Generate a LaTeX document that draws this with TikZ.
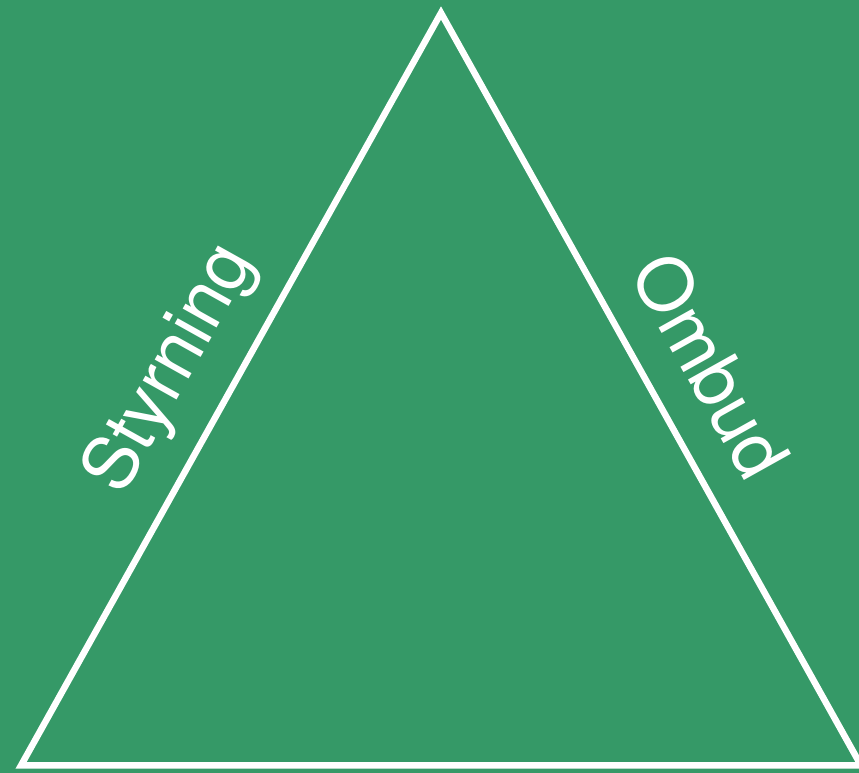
\documentclass[tikz,border=0pt]{standalone}
\usepackage{fontspec}
\setmainfont{TeX Gyre Heros}
\usetikzlibrary{calc}
\definecolor{bggreen}{RGB}{53,153,103}
\tikzset{
  edge/.style={draw=white, line width=6.5pt, line join=miter},
  sidelabel/.style={text=white, inner sep=0pt, anchor=base west, font=\fontsize{74}{80}\selectfont}
}
\begin{document}
\begin{tikzpicture}[x=1pt,y=1pt]
\fill[bggreen] (0,0) rectangle (859,773);
\useasboundingbox (0,0) rectangle (859,773);
\coordinate (A) at (441,760);
\coordinate (B) at (21,7.5);
\coordinate (C) at (861,7.5);
\begin{scope}
\clip (0,0) rectangle (859,773);
\draw[edge] (B) -- (A) -- (C) -- cycle;
\end{scope}
\coordinate (sp) at ($(B)!283pt!(A)$);
\coordinate (so) at ($(sp)!42pt!90:(A)$);
\node[sidelabel, rotate=60.83] (styr) at (so) {Styrning};
\coordinate (op) at ($(A)!318pt!(C)$);
\coordinate (oo) at ($(op)!37pt!90:(C)$);
\node[sidelabel, rotate=-60.83] (omb) at (oo) {Ombud};
\end{tikzpicture}
\end{document}
